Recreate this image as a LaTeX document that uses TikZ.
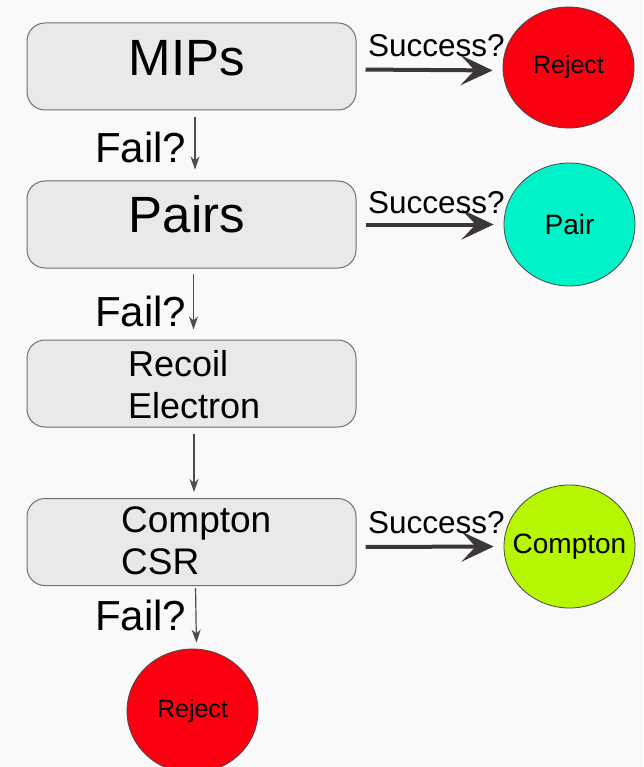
\documentclass[tikz,border=0pt]{standalone}
\usepackage{fontspec}
\setmainfont{Liberation Sans}
\usetikzlibrary{shapes.geometric,arrows.meta}

\definecolor{pagebg}{RGB}{249,249,249}
\definecolor{boxfill}{RGB}{233,233,233}
\definecolor{boxline}{RGB}{112,112,112}
\definecolor{ringline}{RGB}{70,70,70}
\definecolor{hline}{RGB}{61,54,56}
\definecolor{vline}{RGB}{80,74,77}
\definecolor{rejectred}{RGB}{252,0,18}
\definecolor{paircyan}{RGB}{0,242,200}
\definecolor{comptonlime}{RGB}{182,246,0}

\begin{document}
\begin{tikzpicture}[x=1pt,y=-1pt,
  stagebox/.style={draw=boxline, fill=boxfill, rounded corners=18pt,
    line width=1pt, minimum width=329pt, minimum height=87pt, inner sep=0pt},
  outcome/.style={ellipse, draw=ringline, line width=0.8pt,
    minimum width=131pt, minimum height=122pt, inner sep=0pt},
  small/.style={font=\fontsize{25}{30}\selectfont, inner sep=0pt},
  medium/.style={font=\fontsize{28}{32}\selectfont, inner sep=0pt},
  passarrow/.style={-{Stealth[length=32pt 0 0,width=30pt 0 0,inset=14pt 0 0]},
    line width=4pt, draw=hline, shorten <=9pt, shorten >=10pt},
  failarrow/.style={-{Stealth[length=13pt 0 0,width=9pt 0 0,inset=4pt 0 0]},
    line width=1.2pt, draw=vline},
  bigtitle/.style={anchor=base, inner sep=0pt, font=\fontsize{51}{60}\selectfont},
  subtitle/.style={anchor=base west, inner sep=0pt, font=\fontsize{36}{42}\selectfont},
  faillabel/.style={anchor=base west, inner sep=0pt, font=\fontsize{42}{50}\selectfont},
  passlabel/.style={anchor=base west, inner sep=0pt, font=\fontsize{31.5}{38}\selectfont}
]
\fill[pagebg] (0,0) rectangle (643,767);
\clip (0,0) rectangle (643,767);

% processing stages
\node[stagebox] (mips) at (191.5,66.5) {};
\node[stagebox] (pairs) at (191.5,224.5) {};
\node[stagebox] (recoil) at (191.5,383.5) {};
\node[stagebox] (compton) at (191.5,542) {};

\node[bigtitle] (mipsT) at (187,76) {MIPs};
\node[bigtitle] (pairsT) at (187,233) {Pairs};
\node[subtitle] (recoilA) at (128,376) {Recoil};
\node[subtitle] (recoilB) at (128,418) {Electron};
\node[subtitle, font=\fontsize{37}{42}\selectfont] (comptonA) at (121,532) {Compton};
\node[subtitle, font=\fontsize{37}{42}\selectfont] (comptonB) at (121,574) {CSR};

% outcomes
\node[outcome, fill=rejectred, minimum height=121pt,
  label={[small]center:Reject}] (rejTop) at (568.5,67.5) {};
\node[outcome, fill=paircyan, minimum height=123pt,
  label={[medium]center:Pair}] (pair) at (569.5,224.5) {};
\node[outcome, fill=comptonlime, minimum height=123pt,
  label={[medium]center:Compton}] (comp) at (569.5,546.5) {};
\node[outcome, fill=rejectred, minimum height=124pt,
  label={[small]center:Reject}] (rejBot) at (192.5,711) {};

% success branches
\draw[passarrow] ([yshift=-3pt]mips.east) -- ([yshift=-3pt]rejTop.west);
\draw[passarrow] (pairs.east) -- (pair.west);
\draw[passarrow] ([yshift=-5pt]compton.east) -- (comp.west);

\node[passlabel] (s1) at (368,57) {Success?};
\node[passlabel] (s2) at (368,213) {Success?};
\node[passlabel] (s3) at (368,533) {Success?};

% failure chain
\draw[failarrow, shorten <=7pt, shorten >=11pt] ([xshift=3.5pt]mips.south) -- ([xshift=3.5pt]pairs.north);
\draw[failarrow, shorten <=5pt, shorten >=10pt] ([xshift=2pt]pairs.south) -- ([xshift=2pt]recoil.north);
\draw[failarrow, shorten <=6pt, shorten >=6pt] ([xshift=2.5pt]recoil.south) -- ([xshift=2.5pt]compton.north);
\draw[failarrow, shorten <=2pt, shorten >=6pt] ([xshift=4pt]compton.south) -- ([xshift=4pt]rejBot.north);

\node[faillabel] (f1) at (95,163) {Fail?};
\node[faillabel] (f2) at (95,326) {Fail?};
\node[faillabel] (f3) at (95,630) {Fail?};
\end{tikzpicture}
\end{document}
